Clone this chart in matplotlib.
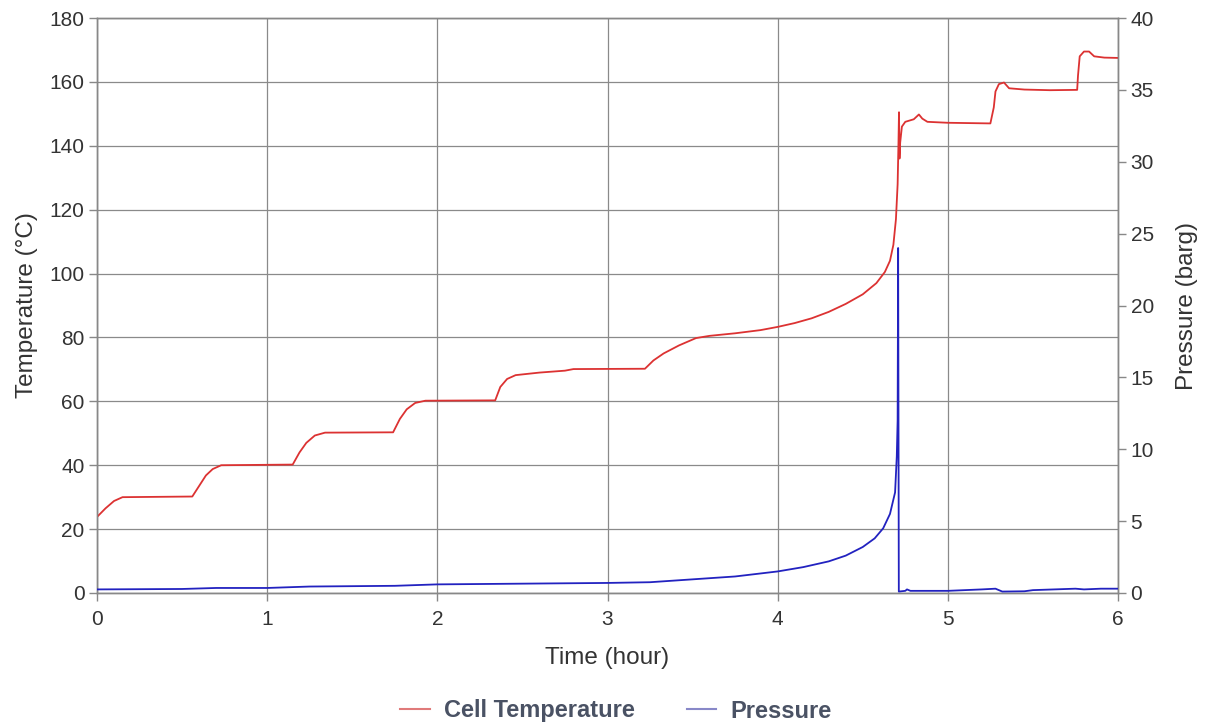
import matplotlib
matplotlib.use("Agg")
import matplotlib.pyplot as plt
from matplotlib.lines import Line2D

plt.rcParams['font.family'] = ['Liberation Sans', 'DejaVu Sans']

# Cell temperature (time in hours, temperature in °C)
temp_time = [0.00, 0.05, 0.10, 0.15, 0.56, 0.60, 0.64, 0.68, 0.73, 1.15, 1.19, 1.23, 1.28, 1.34,
             1.74, 1.78, 1.82, 1.87, 1.93, 2.34, 2.37, 2.41, 2.46, 2.60, 2.75, 2.80, 3.22, 3.27,
             3.33, 3.42, 3.52, 3.60, 3.75, 3.90, 4.00, 4.10, 4.20, 4.30, 4.40, 4.50, 4.58, 4.63,
             4.66, 4.68, 4.695, 4.705, 4.71, 4.713, 4.716, 4.72, 4.73, 4.75, 4.80, 4.83, 4.85,
             4.88, 5.00, 5.25, 5.27, 5.28, 5.30, 5.33, 5.36, 5.45, 5.60, 5.76, 5.765, 5.775,
             5.80, 5.83, 5.86, 5.92, 6.00]
temp_vals = [23.8, 26.5, 28.8, 30.0, 30.2, 33.5, 36.8, 38.8, 40.0, 40.2, 44.0, 47.0, 49.3, 50.2,
             50.3, 54.5, 57.5, 59.5, 60.2, 60.3, 64.5, 67.0, 68.2, 69.0, 69.6, 70.1, 70.2, 72.8,
             75.0, 77.5, 79.8, 80.5, 81.3, 82.3, 83.3, 84.5, 86.0, 88.0, 90.5, 93.5, 97.0, 100.5,
             104.0, 109.0, 117.0, 128.0, 141.0, 150.5, 136.0, 141.0, 146.0, 147.5, 148.3, 149.8, 148.5,
             147.5, 147.2, 147.0, 152.0, 157.0, 159.3, 159.8, 158.0, 157.6, 157.4, 157.5, 162.0, 168.0,
             169.5, 169.5, 168.0, 167.6, 167.5]

# Pressure (time in hours, pressure in barg)
pres_time = [0.00, 0.50, 0.70, 1.00, 1.25, 1.75, 2.00, 2.50, 3.00, 3.25, 3.50, 3.75, 4.00, 4.15,
             4.30, 4.40, 4.50, 4.57, 4.62, 4.66, 4.69, 4.70, 4.705, 4.708, 4.712, 4.75, 4.76,
             4.78, 5.00, 5.20, 5.28, 5.32, 5.45, 5.50, 5.75, 5.80, 5.90, 6.00]
pres_vals = [0.25, 0.28, 0.35, 0.35, 0.45, 0.50, 0.60, 0.65, 0.70, 0.75, 0.95, 1.15, 1.50, 1.80,
             2.20, 2.60, 3.20, 3.80, 4.50, 5.50, 7.00, 9.50, 12.0, 24.0, 0.10, 0.15, 0.25,
             0.15, 0.15, 0.25, 0.30, 0.10, 0.12, 0.20, 0.30, 0.25, 0.30, 0.30]

x_ticks = [0, 1, 2, 3, 4, 5, 6]
temp_ticks = [0, 20, 40, 60, 80, 100, 120, 140, 160, 180]
pres_ticks = [0, 5, 10, 15, 20, 25, 30, 35, 40]

red = '#dc3232'
blue = '#2222c0'
txt = '#333333'
spine_c = '#888888'

fig = plt.figure(figsize=(12.09, 7.27), dpi=100)
ax = fig.add_axes([97/1209, 1-593/727, (1118-97)/1209, (593-18)/727])
ax2 = ax.twinx()

ax.plot(temp_time, temp_vals, color=red, lw=1.3, zorder=3)
ax2.plot(pres_time, pres_vals, color=blue, lw=1.3, zorder=3)

ax.set_xlim(0, 6)
ax.set_ylim(0, 180)
ax2.set_ylim(0, 40)
ax.set_xticks(x_ticks)
ax.set_yticks(temp_ticks)
ax2.set_yticks(pres_ticks)

ax.grid(True, color='#8a8a8a', lw=0.9)
ax.set_axisbelow(True)

for a in (ax, ax2):
    for s in a.spines.values():
        s.set_color(spine_c)
        s.set_linewidth(1.0)
    a.tick_params(colors=spine_c, labelcolor=txt, labelsize=15, length=6, width=1,
                  direction='out', pad=3)
ax.tick_params(axis='x', pad=6)

ax.set_xlabel('Time (hour)', fontsize=17.5, color=txt, labelpad=13)
ax.set_ylabel('Temperature (°C)', fontsize=17.5, color=txt, labelpad=8)
ax2.set_ylabel('Pressure (barg)', fontsize=17.5, color=txt, labelpad=16)

handles = [Line2D([0], [0], color='#e07a7a', lw=1.5),
           Line2D([0], [0], color='#8888c8', lw=1.5)]
fig.legend(handles, ['Cell Temperature', 'Pressure'], loc='center',
           bbox_to_anchor=(616/1209, 1-711/727), ncol=2, frameon=False,
           prop={'weight': 'bold', 'size': 17}, labelcolor='#4a5264',
           handlelength=1.25, columnspacing=2.2, handletextpad=0.6)

fig.savefig('out.png', dpi=100, facecolor='white')
